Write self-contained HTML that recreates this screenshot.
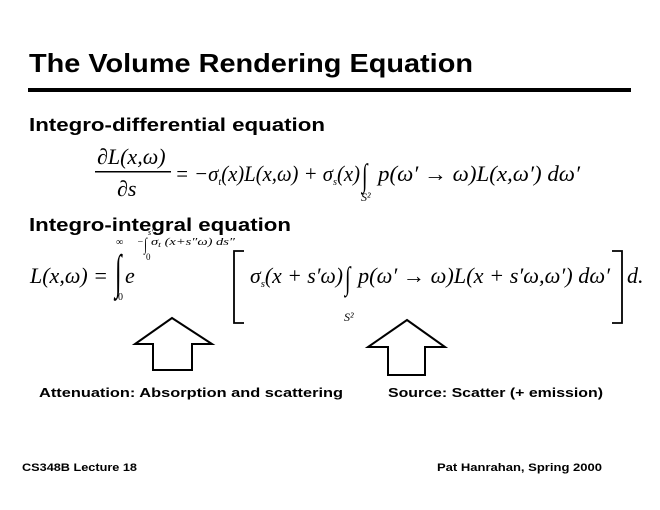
<!DOCTYPE html>
<html><head><meta charset="utf-8"><style>
html,body{margin:0;padding:0;background:#fff;width:660px;height:510px;overflow:hidden}
svg{display:block}
.b{font-family:"Liberation Sans",sans-serif;font-weight:bold;fill:#000}
.m{font-family:"Liberation Serif",serif;font-style:italic;fill:#000}
.r{font-family:"Liberation Serif",serif;fill:#000}
</style></head><body>
<svg width="660" height="510" viewBox="0 0 660 510" xmlns="http://www.w3.org/2000/svg">
<text class="b" x="29" y="72" font-size="26" textLength="444" lengthAdjust="spacingAndGlyphs">The Volume Rendering Equation</text>
<rect x="28" y="88" width="603" height="4" fill="#000"/>
<text class="b" x="29" y="131" font-size="18" textLength="296" lengthAdjust="spacingAndGlyphs">Integro-differential equation</text>
<text class="m" x="97" y="164" font-size="22">∂L(x,ω)</text>
<rect x="95" y="171" width="76" height="1.5" fill="#000"/>
<text class="m" x="117" y="196" font-size="22">∂s</text>
<text class="m" x="175" y="181" font-size="22" textLength="185" lengthAdjust="spacingAndGlyphs">= −σ<tspan font-size="11" dy="4">t</tspan><tspan dy="-4">(x)L(x,ω) + σ</tspan><tspan font-size="11" dy="4">s</tspan><tspan dy="-4">(x)</tspan></text>
<text class="r" font-size="20" transform="translate(362,186) scale(1,1.6)">∫</text>
<text class="m" x="378" y="181" font-size="22" textLength="202" lengthAdjust="spacingAndGlyphs">p(ω′ → ω)L(x,ω′) dω′</text>
<text class="m" x="361" y="201" font-size="12">S²</text>
<text class="b" x="29" y="231" font-size="18" textLength="262" lengthAdjust="spacingAndGlyphs">Integro-integral equation</text>
<text class="m" x="30" y="283" font-size="22">L(x,ω) =</text>
<text class="r" font-size="24" transform="translate(115,288) scale(1,2)">∫</text>
<text class="r" x="116" y="245" font-size="10">∞</text>
<text class="r" x="118" y="300" font-size="10">0</text>
<text class="m" x="125" y="283" font-size="22">e</text>
<text class="m" x="137" y="245" font-size="10">−</text>
<text class="r" font-size="11" transform="translate(144,250) scale(1,1.6)">∫</text>
<text class="m" x="151" y="245" font-size="10" textLength="84" lengthAdjust="spacingAndGlyphs">σ<tspan font-size="7" dy="2">t</tspan><tspan dy="-2"> (x+s″ω) ds″</tspan></text>
<text class="m" x="148" y="235" font-size="8">s′</text>
<text class="r" x="146" y="260" font-size="9">0</text>
<path d="M244 251 H234 V323 H244" fill="none" stroke="#000" stroke-width="1.8"/>
<text class="m" x="250" y="283" font-size="22" textLength="93" lengthAdjust="spacingAndGlyphs">σ<tspan font-size="11" dy="4">s</tspan><tspan dy="-4">(x + s′ω)</tspan></text>
<text class="r" font-size="20" transform="translate(345,289) scale(1,1.6)">∫</text>
<text class="m" x="358" y="283" font-size="22" textLength="252" lengthAdjust="spacingAndGlyphs">p(ω′ → ω)L(x + s′ω,ω′) dω′</text>
<text class="m" x="344" y="321" font-size="12">S²</text>
<path d="M612 251 H622 V323 H612" fill="none" stroke="#000" stroke-width="1.8"/>
<text class="m" x="627" y="283" font-size="22">d.</text>
<path d="M172 318 L212 344 H192 V370 H153 V344 H135 Z" fill="none" stroke="#000" stroke-width="2"/>
<path d="M407 320 L445 347 H425 V375 H388 V347 H368 Z" fill="none" stroke="#000" stroke-width="2"/>
<text class="b" x="39" y="397" font-size="13" textLength="304" lengthAdjust="spacingAndGlyphs">Attenuation: Absorption and scattering</text>
<text class="b" x="388" y="397" font-size="13" textLength="215" lengthAdjust="spacingAndGlyphs">Source: Scatter (+ emission)</text>
<text class="b" x="22" y="471" font-size="11" textLength="115" lengthAdjust="spacingAndGlyphs">CS348B Lecture 18</text>
<text class="b" x="437" y="471" font-size="11" textLength="165" lengthAdjust="spacingAndGlyphs">Pat Hanrahan, Spring 2000</text>
</svg>
</body></html>
